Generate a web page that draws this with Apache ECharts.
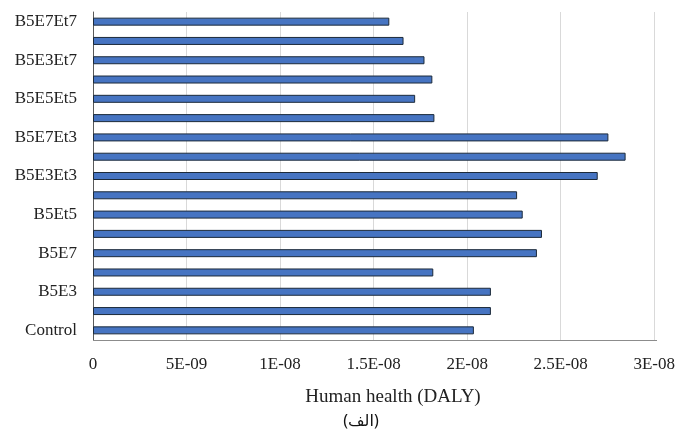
<!DOCTYPE html>
<html>
<head>
<meta charset="utf-8">
<script src="https://cdn.jsdelivr.net/npm/echarts@6/dist/echarts.min.js"></script>
<style>html,body{margin:0;padding:0;background:#fff}#c{width:678px;height:436px}</style>
</head>
<body>
<div id="c"></div>
<script>
const categories = ["Control","B5","B5E3","B5E5","B5E7","B5Et3","B5Et5","B5Et7","B5E3Et3","B5E5Et3","B5E7Et3","B5E3Et5","B5E5Et5","B5E7Et5","B5E3Et7","B5E5Et7","B5E7Et7"];
const values = [2.036e-8,2.127e-8,2.127e-8,1.819e-8,2.373e-8,2.400e-8,2.297e-8,2.267e-8,2.698e-8,2.847e-8,2.755e-8,1.825e-8,1.722e-8,1.814e-8,1.772e-8,1.660e-8,1.584e-8];
const xTickLabels = ["0","5E-09","1E-08","1.5E-08","2E-08","2.5E-08","3E-08"];
const xTitle = "Human health (DALY)";
const caption = "(الف)";

const chart = echarts.init(document.getElementById('c'));
const serif = '"Liberation Serif","Times New Roman",serif';
chart.setOption({
  animation: false,
  grid: {left: 93, right: 21, top: 12, bottom: 96, containLabel: false},
  xAxis: {
    type: 'value', min: 0, max: 3e-8, interval: 5e-9,
    axisLine: {show: false},
    axisTick: {show: false},
    splitLine: {show: true, lineStyle: {color: '#d9d9d9', width: 1}},
    axisLabel: {
      margin: 16, color: '#222', fontFamily: serif, fontSize: 17,
      formatter: function (v, i) { return xTickLabels[Math.round(v / 5e-9)]; }
    }
  },
  yAxis: {
    type: 'category', data: categories,
    axisLine: {show: true, lineStyle: {color: '#595959', width: 1}},
    axisTick: {show: false},
    splitLine: {show: false},
    axisLabel: {interval: 1, margin: 16, color: '#222', fontFamily: serif, fontSize: 17}
  },
  series: [{
    type: 'bar', data: values, barWidth: 8,
    itemStyle: {color: '#4674c2', borderColor: '#1c2a3a', borderWidth: 1}
  }],
  graphic: [
    {type: 'line', shape: {x1: 93, y1: 340.5, x2: 657, y2: 340.5}, style: {stroke: '#8c8c8c', lineWidth: 1}, z: 10},
    {type: 'text', x: 393, y: 397, style: {text: xTitle, font: '19px ' + serif, fill: '#222', textAlign: 'center', textVerticalAlign: 'middle'}},
    {type: 'text', x: 361, y: 421, style: {text: caption, font: '16px "Noto Sans", "DejaVu Sans", sans-serif', fill: '#111', textAlign: 'center', textVerticalAlign: 'middle'}}
  ]
});
</script>
</body>
</html>
